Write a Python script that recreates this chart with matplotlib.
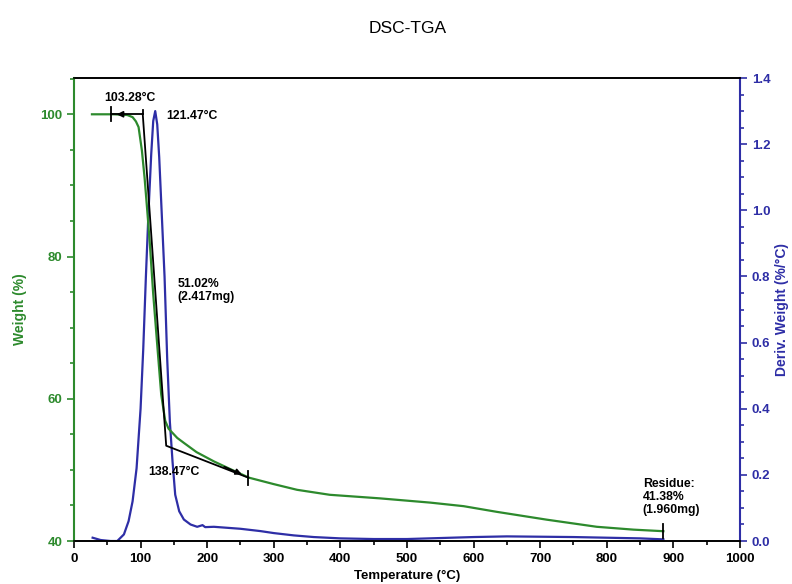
import matplotlib
matplotlib.use("Agg")
import matplotlib.pyplot as plt
from matplotlib.ticker import MultipleLocator

plt.rcParams['font.family'] = ['Liberation Sans', 'DejaVu Sans']

# Weight (%) vs temperature
tga_T = [27, 40, 60, 80, 88, 93, 97, 102, 106, 110, 114, 119, 125, 131, 137, 142,
         147, 155, 165, 184, 210, 235, 263, 300, 335, 384, 459, 535, 585, 635,
         710, 785, 840, 885]
tga_W = [100.0, 100.0, 100.0, 99.9, 99.6, 99.0, 98.2, 94.9, 91.1, 86.5, 81.7, 74.7,
         67.6, 60.6, 56.9, 55.8, 55.3, 54.5, 53.8, 52.5, 51.2, 50.1, 48.9, 48.0,
         47.2, 46.5, 46.0, 45.4, 44.9, 44.1, 43.0, 42.0, 41.6, 41.38]

# Derivative weight (%/°C)
dtg_T = [28, 40, 55, 65, 75, 82, 88, 94, 100, 104, 108, 112, 116, 119, 122, 125,
         128, 132, 136, 140, 144, 148, 152, 158, 165, 175, 185, 193, 197, 210, 230,
         250, 280, 300, 330, 360, 400, 450, 500, 550, 600, 650, 700, 750, 800, 850, 885]
dtg_D = [0.010, 0.003, 0.0, 0.0, 0.02, 0.06, 0.12, 0.22, 0.40, 0.58, 0.80, 1.00,
         1.17, 1.27, 1.30, 1.26, 1.16, 0.98, 0.80, 0.55, 0.36, 0.24, 0.14, 0.09,
         0.065, 0.05, 0.043, 0.048, 0.042, 0.043, 0.040, 0.037, 0.030, 0.024, 0.017,
         0.012, 0.008, 0.006, 0.006, 0.009, 0.012, 0.014, 0.013, 0.012, 0.010, 0.008,
         0.005]

# Onset construction (step analysis)
onset_T = [103.28, 138.47]
onset_W = [100.0, 53.4]
step_start_T, step_end_T = 56, 262
step_end_W = 48.9
residue_T, residue_W = 885, 41.38

title = "DSC-TGA"
xlabel = "Temperature (°C)"
ylabel_left = "Weight (%)"
ylabel_right = "Deriv. Weight (%/°C)"

GREEN = '#2d8a2d'
BLUE = '#2e2ea6'

fig = plt.figure(figsize=(7.92, 5.84), dpi=100)
ax = fig.add_axes([0.0934, 0.0736, 0.8409, 0.7928])
ax2 = ax.twinx()

ax2.plot(dtg_T, dtg_D, color=BLUE, lw=1.6)
ax.plot(tga_T, tga_W, color=GREEN, lw=1.6, zorder=3)
ax.set_zorder(ax2.get_zorder() + 1)
ax.patch.set_visible(False)

# black construction lines
ax.plot([step_start_T, onset_T[0]], [100.0, 100.0], color='black', lw=1.3, zorder=4)
ax.plot([onset_T[0], onset_T[0], onset_T[1], step_end_T],
        [100.0, 100.0, onset_W[1], step_end_W], color='black', lw=1.3, zorder=4)
ax.annotate('', xy=(step_start_T + 4, 100.0), xytext=(step_start_T + 22, 100.0),
            arrowprops=dict(arrowstyle='-|>', color='black', lw=1.2, mutation_scale=9), zorder=5)
ax.annotate('', xy=(step_end_T - 6, step_end_W + 0.3), xytext=(step_end_T - 40, step_end_W + 1.7),
            arrowprops=dict(arrowstyle='-|>', color='black', lw=1.2, mutation_scale=9), zorder=5)
for tx, wy in [(step_start_T, 100.0), (step_end_T, step_end_W), (residue_T, residue_W)]:
    ax.plot([tx, tx], [wy - 1.0, wy + 1.0], color='black', lw=1.3, zorder=5)
ax.plot([onset_T[0], onset_T[0]], [100.0, 100.6], color='black', lw=1.3, zorder=5)

fs = 8.8
ax.text(84, 101.5, "103.28°C", fontsize=fs, fontweight='bold', ha='center', va='bottom')
ax.text(138, 99.7, "121.47°C", fontsize=fs, fontweight='bold', ha='left', va='center')
ax.text(156, 75.2, "51.02%\n(2.417mg)", fontsize=fs, fontweight='bold', ha='left', va='center',
        linespacing=1.1)
ax.text(111, 49.7, "138.47°C", fontsize=fs, fontweight='bold', ha='left', va='center')
ax.text(854, 46.2, "Residue:\n41.38%\n(1.960mg)", fontsize=fs, fontweight='bold', ha='left',
        va='center', linespacing=1.1)

ax.set_xlim(0, 1000)
ax.set_ylim(40, 105.1)
ax2.set_ylim(0, 1.4)

ax.xaxis.set_major_locator(MultipleLocator(100))
ax.xaxis.set_minor_locator(MultipleLocator(50))
ax.yaxis.set_major_locator(MultipleLocator(20))
ax.yaxis.set_minor_locator(MultipleLocator(5))
ax2.yaxis.set_major_locator(MultipleLocator(0.2))
ax2.yaxis.set_minor_locator(MultipleLocator(0.05))
ax2.yaxis.set_major_formatter(plt.FormatStrFormatter('%.1f'))

ax.spines['left'].set_color(GREEN)
ax.spines['left'].set_linewidth(1.5)
ax2.spines['left'].set_visible(False)
ax2.spines['right'].set_color(BLUE)
ax2.spines['right'].set_linewidth(1.5)
ax.spines['right'].set_visible(False)
for a in (ax, ax2):
    a.spines['top'].set_linewidth(1.2)
    a.spines['bottom'].set_linewidth(1.2)

ax.tick_params(axis='y', which='both', colors=GREEN, labelsize=9.5, width=1.2)
ax.tick_params(axis='y', which='major', length=5)
ax.tick_params(axis='y', which='minor', length=3)
ax.tick_params(axis='x', which='both', colors='black', labelsize=9.5, width=1.2)
ax.tick_params(axis='x', which='major', length=5)
ax.tick_params(axis='x', which='minor', length=3)
ax2.tick_params(axis='y', which='both', colors=BLUE, labelsize=9.5, width=1.2)
ax2.tick_params(axis='y', which='major', length=5)
ax2.tick_params(axis='y', which='minor', length=3)
for lbl in ax.get_xticklabels() + ax.get_yticklabels() + ax2.get_yticklabels():
    lbl.set_fontweight('bold')

ax.set_xlabel(xlabel, fontsize=9.5, fontweight='bold')
ax.xaxis.set_label_coords(0.5, -0.062)
ax.set_ylabel(ylabel_left, fontsize=10, fontweight='bold', color=GREEN)
ax.yaxis.set_label_coords(-0.07, 0.5)
ax2.set_ylabel(ylabel_right, fontsize=10, fontweight='bold', color=BLUE)
ax2.yaxis.set_label_coords(1.052, 0.5)

fig.text(0.515, 0.952, title, fontsize=12.5, ha='center', va='center')

fig.savefig("out.png", dpi=100)
